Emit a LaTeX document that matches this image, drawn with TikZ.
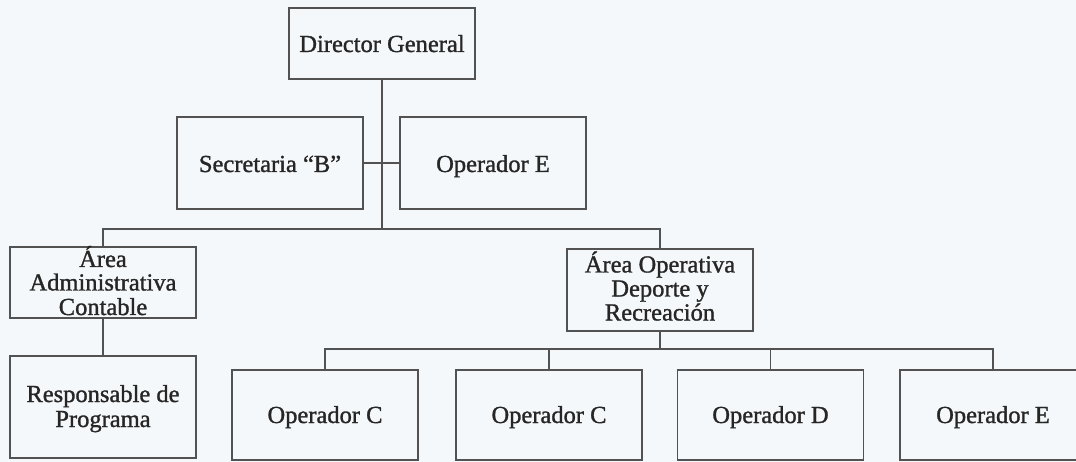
\documentclass[tikz,border=0pt]{standalone}
\usepackage{fontspec}
\setmainfont{Liberation Serif}
\newfontfamily\lblfont[FakeBold=1.2]{Liberation Serif}
\definecolor{bg}{RGB}{245,248,250}
\definecolor{ln}{RGB}{82,82,82}
\definecolor{tx}{RGB}{38,38,38}
\begin{document}
\begin{tikzpicture}[x=1pt,y=-1pt,
  box/.style={draw=ln, line width=1.9pt, minimum width=186pt, inner sep=0pt, outer sep=0pt, rectangle},
  lbl/.style={anchor=base, text=tx, inner sep=0pt, font=\lblfont\fontsize{24.5}{24.5}\selectfont},
  con/.style={draw=ln, line width=1.9pt}]
\fill[bg] (0,0) rectangle (1076,462);
\useasboundingbox (0,0) rectangle (1076,462);
\clip (0,0) rectangle (1076,462);

% boxes
\node[box, minimum height=71pt] (dg) at (382,43.5) {};
\node[box, minimum height=92pt] (sec) at (270,163) {};
\node[box, minimum height=92pt] (ope) at (493,163) {};
\node[box, minimum height=71pt] (aac) at (103,282.5) {};
\node[box, minimum height=102pt] (resp) at (103,407) {};
\node[box, minimum height=82pt] (aop) at (660,290) {};
\node[box, minimum height=90pt] (oc1) at (325,415) {};
\node[box, minimum height=90pt] (oc2) at (549,415) {};
\node[box, minimum height=90pt] (od) at (770.5,415) {};
\node[box, minimum height=90pt] (oe) at (993,415) {};

% texts
\node[lbl] (dgt) at (382,52) {Director General};
\node[lbl] (sect) at (270,172) {Secretaria “B”};
\node[lbl] (opet) at (493,172) {Operador E};
\node[lbl] (aac1) at (103,267) {Área};
\node[lbl] (aac2) at (103,290.5) {Administrativa};
\node[lbl] (aac3) at (103,315) {Contable};
\node[lbl] (resp1) at (103,402) {Responsable de};
\node[lbl] (resp2) at (103,427) {Programa};
\node[lbl] (aop1) at (660,272.5) {Área Operativa};
\node[lbl] (aop2) at (660,296.5) {Deporte y};
\node[lbl] (aop3) at (660,320.5) {Recreación};
\node[lbl] (oc1t) at (325,423) {Operador C};
\node[lbl] (oc2t) at (549,423) {Operador C};
\node[lbl] (odt) at (770.5,423) {Operador D};
\node[lbl] (oet) at (993,423) {Operador E};

% connectors
\coordinate (top) at (382,229);
\coordinate (bus) at (660,349);
\draw[con] (dg.south) -- (top);
\draw[con] (sec.east) -- (ope.west);
\draw[con] (aac.north) |- (top) -| (aop.north);
\draw[con] (aac.south) -- (resp.north);
\draw[con] (aop.south) -- (bus);
\draw[con] (oc1.north) |- (bus) -| (oe.north);
\draw[con] (oc2.north) -- (oc2.north |- bus);
\draw[con] (od.north) -- (od.north |- bus);
\end{tikzpicture}
\end{document}
